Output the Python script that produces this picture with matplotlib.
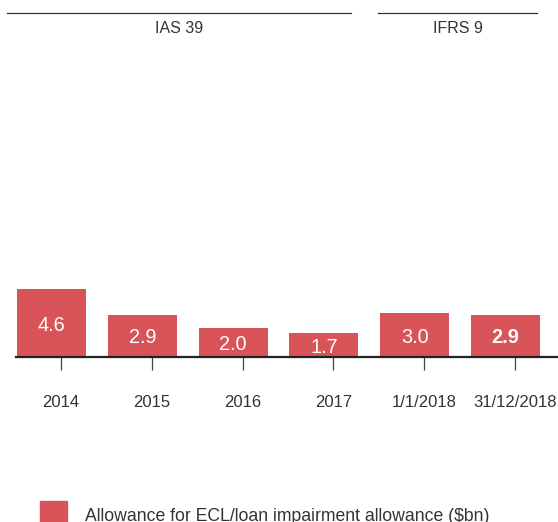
import matplotlib
matplotlib.use("Agg")
import matplotlib.pyplot as plt
from matplotlib.lines import Line2D
from matplotlib.patches import Rectangle
import numpy as np

plt.rcParams['font.family'] = ['Liberation Sans', 'DejaVu Sans']

categories = ["2014", "2015", "2016", "2017", "1/1/2018", "31/12/2018"]
values = [4.6, 2.9, 2.0, 1.7, 3.0, 2.9]
headers = ["IAS 39", "IFRS 9"]
legend_label = "Allowance for ECL/loan impairment allowance ($bn)"

BAR = "#D85458"
TXT = "#333333"

W, H = 558, 522
fig = plt.figure(figsize=(W / 100, H / 100), dpi=100)

base_px, top_px = 357, 40
ax = fig.add_axes([16 / W, (H - base_px) / H, (W - 16) / W, (base_px - top_px) / H])

x = np.arange(len(categories))
ymin = 0.12
px_per_unit = 15.17
ax.bar(x, values, width=0.76, color=BAR, zorder=2)
ax.set_xlim(-0.391, 5.578)
ax.set_ylim(ymin, ymin + (base_px - top_px) / px_per_unit)

for i, v in enumerate(values):
    ax.text(x[i], (ymin + v) / 2, f"{v:.1f}", ha="center", va="center_baseline",
            color="white", fontsize=14.3,
            fontweight="bold" if i == len(values) - 1 else "normal", zorder=3)

for s in ["top", "right", "left"]:
    ax.spines[s].set_visible(False)
ax.spines["bottom"].set_linewidth(1.6)
ax.spines["bottom"].set_color("#222222")
ax.spines["bottom"].set_zorder(4)

ax.set_yticks([])
ax.set_xticks(x + 0.105)
ax.set_xticklabels(categories)
ax.tick_params(axis="x", length=9.4, width=0.9, color="#444444", pad=18.2,
               labelsize=12, labelcolor=TXT)

# header brackets
yl = 1 - 13 / H
fig.add_artist(Line2D([7 / W, 350.5 / W], [yl, yl], transform=fig.transFigure,
                      color="#333333", lw=0.9))
fig.add_artist(Line2D([377.6 / W, 537 / W], [yl, yl], transform=fig.transFigure,
                      color="#333333", lw=0.9))
fig.text(178.8 / W, 1 - 28.5 / H, headers[0], ha="center", va="center",
         fontsize=11.5, color=TXT)
fig.text(457.7 / W, 1 - 28.5 / H, headers[1], ha="center", va="center",
         fontsize=11.5, color=TXT)

# legend
fig.add_artist(Rectangle((40 / W, (H - 528) / H), 27 / W, 27 / H,
                         transform=fig.transFigure, color=BAR))
fig.text(85 / W, (H - 521) / H, legend_label, ha="left", va="baseline",
         fontsize=12.7, color=TXT)

fig.savefig("out.png", dpi=100)
